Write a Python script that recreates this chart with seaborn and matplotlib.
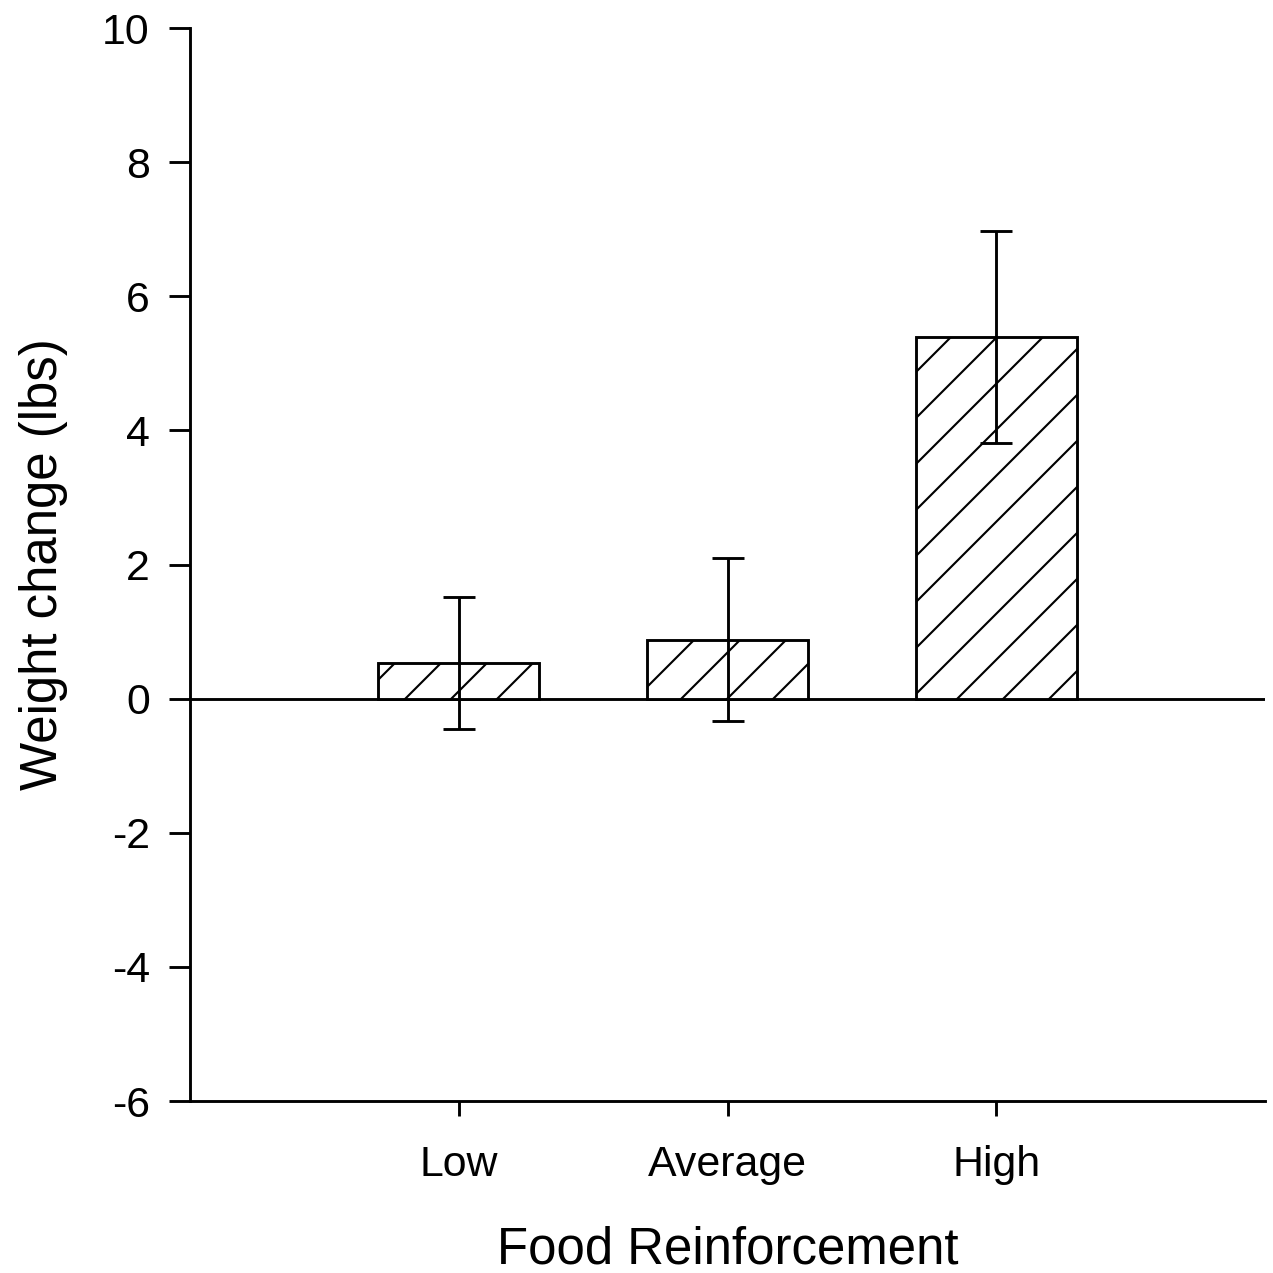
import numpy as np
import matplotlib
matplotlib.use("Agg")
import matplotlib.pyplot as plt
import seaborn as sns

# data
levels = ["Low", "Average", "High"]
weight_change = [0.53, 0.88, 5.39]
sem = [0.99, 1.22, 1.58]

sns.set_theme(style="ticks")
plt.rcParams["font.family"] = ["Liberation Sans", "DejaVu Sans"]
plt.rcParams["hatch.linewidth"] = 0.55
plt.rcParams["axes.linewidth"] = 0.75
plt.rcParams["axes.unicode_minus"] = False
plt.rcParams["axes.edgecolor"] = "black"
plt.rcParams["xtick.color"] = "black"
plt.rcParams["ytick.color"] = "black"
plt.rcParams["text.color"] = "black"
plt.rcParams["axes.labelcolor"] = "black"

# dpi chosen so the hatch spacing matches the reference
dpi = 276
fig = plt.figure(figsize=(1273 / dpi, 1273 / dpi), dpi=dpi)
ax = fig.add_axes([0.1493, 0.1351, 0.8444, 0.8429])

sns.barplot(x=levels, y=weight_change, color="white", edgecolor="black",
            linewidth=0.75, hatch="//", width=0.6, errorbar=None, ax=ax)
ax.errorbar(np.arange(len(levels)), weight_change, yerr=sem, fmt="none",
            ecolor="black", elinewidth=0.75, capsize=4.3, capthick=0.75)
ax.axhline(0, color="black", lw=0.75, zorder=0)

ax.set_xlim(-1, 3)
ax.set_ylim(-6, 10)
ax.set_yticks(range(-6, 11, 2))
ax.tick_params(axis="y", length=5.5, width=0.75, labelsize=11.2, pad=5)
ax.tick_params(axis="x", length=4, width=0.75, labelsize=11.2, pad=7.5)
sns.despine(ax=ax)

ax.set_xlabel("Food Reinforcement", fontsize=13.3, labelpad=10.5)
ax.set_ylabel("Weight change (lbs)", fontsize=13.3, labelpad=9)

fig.savefig("out.png", dpi=dpi)
